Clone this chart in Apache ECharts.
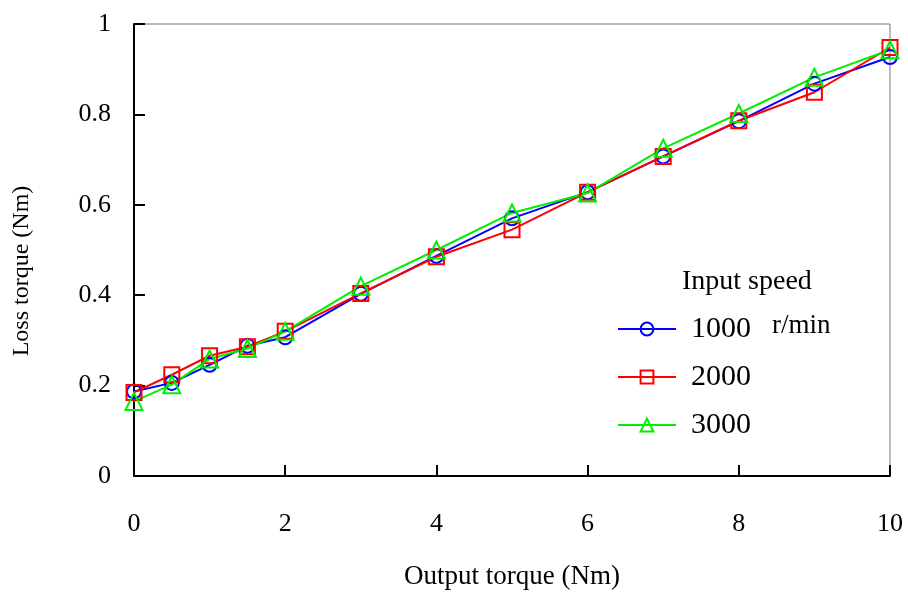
<!DOCTYPE html>
<html><head><meta charset="utf-8">
<script src="https://cdn.jsdelivr.net/npm/echarts@6/dist/echarts.min.js"></script>
<style>html,body{margin:0;padding:0;background:#fff}#c{width:908px;height:595px}</style>
</head><body><div id="c"></div>
<script>
const xValues = [0, 0.5, 1, 1.5, 2, 3, 4, 5, 6, 7, 8, 9, 10];
const speed1000 = [0.187, 0.206, 0.246, 0.288, 0.307, 0.403, 0.487, 0.570, 0.628, 0.707, 0.785, 0.868, 0.927];
const speed2000 = [0.185, 0.224, 0.266, 0.286, 0.320, 0.404, 0.485, 0.545, 0.628, 0.707, 0.786, 0.849, 0.948];
const speed3000 = [0.165, 0.202, 0.259, 0.282, 0.320, 0.420, 0.500, 0.582, 0.626, 0.725, 0.802, 0.882, 0.943];
const seriesNames = ['1000', '2000', '3000'];
const xTicks = [0, 2, 4, 6, 8, 10];
const yTicks = [0, 0.2, 0.4, 0.6, 0.8, 1];

const font = '"Liberation Serif", "Times New Roman", serif';
const pair = arr => xValues.map((x, i) => [x, arr[i]]);
const mk = (name, data, color, symbol, size) => ({
  name, type: 'line', data: pair(data), symbol, symbolSize: size,
  lineStyle: { color, width: 2 },
  itemStyle: { color: 'rgba(255,255,255,0)', borderColor: color, borderWidth: 2 },
  emphasis: { disabled: true }, z: 3
});

const chart = echarts.init(document.getElementById('c'), null, { renderer: 'canvas' });
chart.setOption({
  animation: false,
  backgroundColor: '#fff',
  grid: { left: 134, right: 18, top: 24, bottom: 116, show: true, borderColor: '#777', borderWidth: 1, backgroundColor: 'transparent' },
  title: {
    text: 'Input speed', left: 677, top: 263,
    textStyle: { fontFamily: font, fontSize: 28, fontWeight: 'normal', color: '#000' }
  },
  legend: {
    data: seriesNames, orient: 'vertical', left: 612, top: 309,
    itemWidth: 58, itemHeight: 16, itemGap: 18,
    textStyle: { fontFamily: font, fontSize: 30, color: '#000', padding: [0, 0, 0, 10] }
  },
  graphic: [
    { type: 'text', x: 772, y: 326, style: { text: 'r/min', font: '27px ' + font, fill: '#000', verticalAlign: 'middle' } },
    { type: 'text', x: 22, y: 271, rotation: Math.PI / 2, style: { text: 'Loss torque (Nm)', font: '24px ' + font, fill: '#000', align: 'center', verticalAlign: 'middle' } }
  ],
  xAxis: {
    type: 'value', min: xTicks[0], max: xTicks[xTicks.length - 1], interval: 2,
    name: 'Output torque (Nm)', nameLocation: 'middle', nameGap: 87,
    nameTextStyle: { fontFamily: font, fontSize: 27, color: '#000' },
    axisLine: { lineStyle: { color: '#000', width: 2 } },
    axisTick: { inside: true, length: 11, lineStyle: { color: '#000', width: 2 } },
    axisLabel: { fontFamily: font, fontSize: 26, color: '#000', margin: 35 },
    splitLine: { show: false }
  },
  yAxis: {
    type: 'value', min: yTicks[0], max: yTicks[yTicks.length - 1], interval: 0.2,
    axisLine: { show: true, lineStyle: { color: '#000', width: 2 } },
    axisTick: { show: true, inside: true, length: 11, lineStyle: { color: '#000', width: 2 } },
    axisLabel: { fontFamily: font, fontSize: 26, color: '#000', margin: 23, formatter: v => String(+v.toFixed(1)) },
    splitLine: { show: false }
  },
  series: [
    mk(seriesNames[0], speed1000, '#0000ff', 'circle', 14),
    mk(seriesNames[1], speed2000, '#ff0000', 'rect', 15),
    mk(seriesNames[2], speed3000, '#00ee00', 'triangle', 17)
  ]
});
</script></body></html>
